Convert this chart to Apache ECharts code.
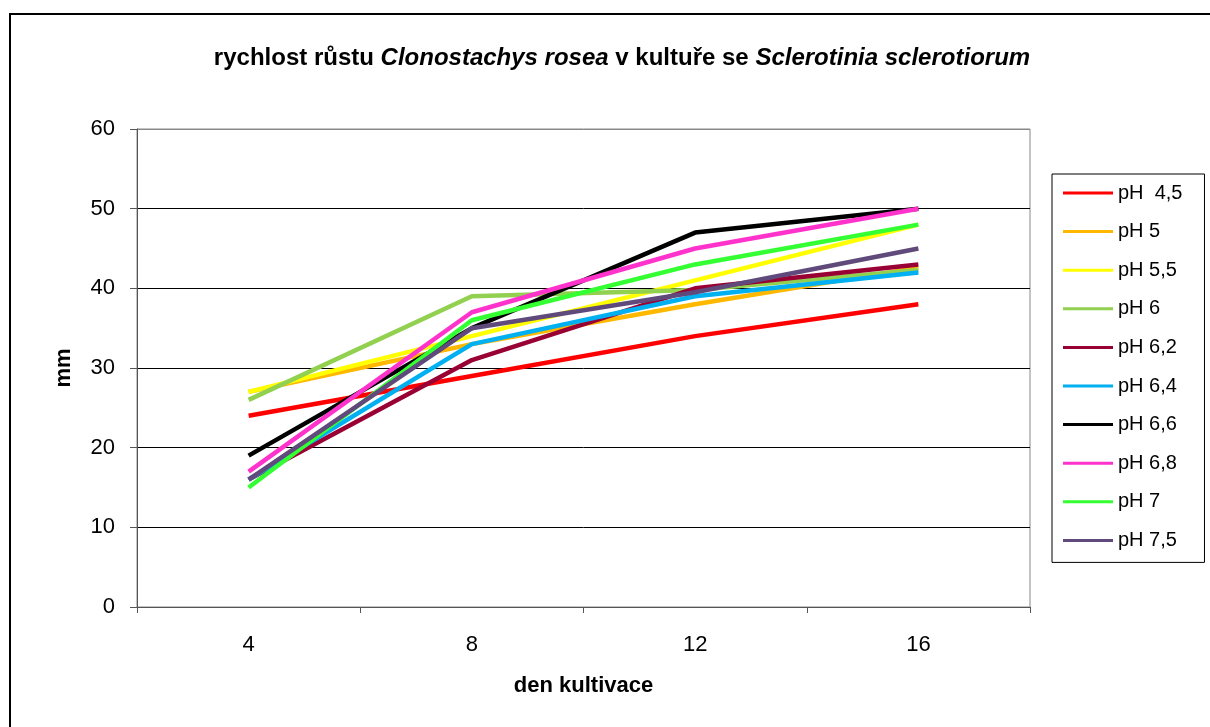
<!DOCTYPE html>
<html>
<head>
<meta charset="utf-8">
<script src="https://cdn.jsdelivr.net/npm/echarts@6/dist/echarts.min.js"></script>
<style>
html,body{margin:0;padding:0;background:#fff;}
#chart{width:1210px;height:727px;}
</style>
</head>
<body>
<div id="chart"></div>
<script>
const days = ['4', '8', '12', '16'];
const yTicks = [0, 10, 20, 30, 40, 50, 60];
const seriesNames = ['pH  4,5', 'pH 5', 'pH 5,5', 'pH 6', 'pH 6,2', 'pH 6,4', 'pH 6,6', 'pH 6,8', 'pH 7', 'pH 7,5'];
const pH45 = [24, 29, 34, 38];
const pH5  = [27, 33, 38, 42.6];
const pH55 = [27, 34, 41, 48];
const pH6  = [26, 39, 39.8, 42.3];
const pH62 = [16, 31, 40, 43];
const pH64 = [16, 33, 39, 42];
const pH66 = [19, 35, 47, 50];
const pH68 = [17, 37, 45, 50];
const pH7  = [15, 36, 43, 48];
const pH75 = [16, 35, 39.5, 45];
const seriesData = [pH45, pH5, pH55, pH6, pH62, pH64, pH66, pH68, pH7, pH75];
const colors = ['#FF0000', '#FFB800', '#FFFF00', '#92D050', '#990033', '#00B0F0', '#000000', '#FF33CC', '#33FF33', '#604A7B'];

const FONT = 'Liberation Sans, Arial, sans-serif';
const chart = echarts.init(document.getElementById('chart'), null, {renderer: 'canvas'});

const option = {
  backgroundColor: '#ffffff',
  animation: false,
  title: {
    text: '{b|rychlost růstu }{i|Clonostachys rosea}{b| v kultuře se }{i|Sclerotinia sclerotiorum}',
    left: 617,
    top: 41,
    textAlign: 'center',
    textStyle: {
      fontFamily: FONT,
      rich: {
        b: {fontFamily: FONT, fontSize: 24, fontWeight: 'bold', color: '#000'},
        i: {fontFamily: FONT, fontSize: 24, fontStyle: 'italic', color: '#000'}
      }
    }
  },
  graphic: [{
    type: 'rect',
    silent: true,
    shape: {x: 10, y: 14, width: 1300, height: 800},
    style: {fill: 'none', stroke: '#000', lineWidth: 2}
  }],
  legend: {
    orient: 'vertical',
    left: 1052,
    top: 174,
    data: seriesNames,
    icon: 'rect',
    itemWidth: 50,
    itemHeight: 3,
    itemGap: 16.6,
    itemTextGap: 5,
    padding: [8, 22, 11, 11],
    borderColor: '#000',
    borderWidth: 1,
    textStyle: {fontFamily: FONT, fontSize: 20, color: '#000', lineHeight: 22}
  },
  grid: {
    left: 137, right: 180, top: 129, bottom: 120,
    show: true, borderColor: '#888', borderWidth: 1, backgroundColor: 'transparent'
  },
  xAxis: {
    type: 'category',
    data: days,
    boundaryGap: true,
    name: 'den kultivace',
    nameLocation: 'middle',
    nameGap: 68,
    nameTextStyle: {fontFamily: FONT, fontSize: 22, fontWeight: 'bold', color: '#000'},
    axisLine: {lineStyle: {color: '#555', width: 1}},
    axisTick: {show: true, length: 6, lineStyle: {color: '#555'}},
    axisLabel: {fontFamily: FONT, fontSize: 22, color: '#000', margin: 27},
    splitLine: {show: false}
  },
  yAxis: {
    type: 'value',
    min: yTicks[0],
    max: yTicks[yTicks.length - 1],
    interval: 10,
    name: 'mm',
    nameLocation: 'middle',
    nameGap: 62,
    nameRotate: 90,
    nameTextStyle: {fontFamily: FONT, fontSize: 22, fontWeight: 'bold', color: '#000'},
    axisLine: {show: true, lineStyle: {color: '#555', width: 1}},
    axisTick: {show: true, length: 7, lineStyle: {color: '#555'}},
    axisLabel: {fontFamily: FONT, fontSize: 22, color: '#000', margin: 22},
    splitLine: {show: true, lineStyle: {color: ['#888', '#000', '#000', '#000', '#000', '#000', '#888'], width: 1}}
  },
  series: seriesNames.map((n, i) => ({
    name: n,
    type: 'line',
    data: seriesData[i],
    showSymbol: false,
    symbol: 'none',
    color: colors[i],
    lineStyle: {color: colors[i], width: 4.5},
    itemStyle: {color: colors[i]}
  }))
};
chart.setOption(option);
</script>
</body>
</html>
